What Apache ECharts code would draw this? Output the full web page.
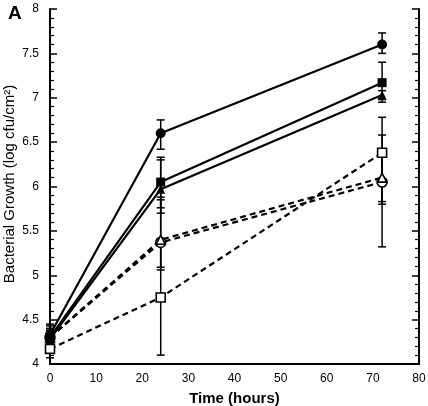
<!DOCTYPE html>
<html><head><meta charset="utf-8">
<script src="https://cdn.jsdelivr.net/npm/echarts@6/dist/echarts.min.js"></script>
<style>html,body{margin:0;padding:0;background:#fff}#c{width:428px;height:406px}</style>
</head><body><div id="c"></div>
<script>
var times = [0, 24, 72];
var filledCircle = [4.33, 6.6, 7.6];
var filledCircleErr = [[4.23, 4.43], [6.42, 6.75], [7.5, 7.73]];
var filledSquare = [4.3, 6.05, 7.17];
var filledSquareErr = [[4.2, 4.4], [5.76, 6.33], [6.95, 7.4]];
var filledTriangle = [4.28, 5.97, 7.03];
var filledTriangleErr = [[4.18, 4.38], [5.7, 6.3], [6.98, 7.08]];
var openSquare = [4.17, 4.75, 6.38];
var openSquareErr = [[4.07, 4.27], [4.1, 5.4], [5.83, 6.58]];
var openCircle = [4.3, 5.37, 6.05];
var openCircleErr = [[4.2, 4.4], [5.06, 5.88], [5.32, 6.78]];
var openTriangle = [4.3, 5.4, 6.1];
var openTriangleErr = [[4.2, 4.45], [5.09, 5.85], [5.8, 6.4]];
var xTicks = [0, 10, 20, 30, 40, 50, 60, 70, 80];
var yTicks = [4, 4.5, 5, 5.5, 6, 6.5, 7, 7.5, 8];

function pts(v){ return times.map(function(t,i){ return [t, v[i]]; }); }
function errs(e){ return times.map(function(t,i){ return [t, e[i][0], e[i][1]]; }); }

var allErr = [].concat(errs(filledCircleErr), errs(filledSquareErr), errs(filledTriangleErr),
  errs(openSquareErr), errs(openCircleErr), errs(openTriangleErr));

function lineSeries(name, data, symbol, size, filled, dashed){
  return {
    name: name, type: 'line', data: pts(data), symbol: symbol, symbolSize: size,
    z: filled ? 5 : 4,
    lineStyle: {color: '#000', width: 2.2, type: dashed ? [6, 4] : 'solid'},
    itemStyle: {color: filled ? '#000' : '#fff', borderColor: '#000', borderWidth: filled ? 0 : 1.6},
    emphasis: {disabled: true}, animation: false
  };
}
var FONT = '"Liberation Sans", Arial, sans-serif';
var chart = echarts.init(document.getElementById('c'));
chart.setOption({
  animation: false,
  backgroundColor: '#fff',
  graphic: [
    {type: 'text', left: 8, top: 4, style: {text: 'A', font: 'bold 19px ' + FONT, fill: '#000'}},
    {type: 'text', x: 10, y: 184, rotation: Math.PI / 2,
      style: {text: 'Bacterial Growth (log cfu/cm²)', font: '15px ' + FONT, fill: '#000',
        align: 'center', verticalAlign: 'middle'}}
  ],
  grid: {left: 50, right: 9, top: 9, bottom: 42, containLabel: false, outerBoundsMode: 'none'},
  xAxis: {
    type: 'value', min: 0, max: 80, interval: 10,
    axisLine: {show: true, lineStyle: {color: '#000', width: 2}},
    axisTick: {show: false}, splitLine: {show: false},
    axisLabel: {color: '#000', fontSize: 12, fontFamily: FONT, margin: 9,
      formatter: function(v){ return xTicks.indexOf(v) >= 0 ? String(v) : ''; }},
    name: 'Time (hours)', nameLocation: 'middle', nameGap: 27,
    nameTextStyle: {color: '#000', fontSize: 15, fontWeight: 'bold', fontFamily: FONT}
  },
  yAxis: [{
    type: 'value', min: 4, max: 8, interval: 0.5,
    axisLine: {show: true, lineStyle: {color: '#000', width: 2}},
    axisTick: {show: true, inside: true, length: 7, lineStyle: {color: '#000', width: 1.5}},
    minorTick: {show: true, splitNumber: 5, length: 4, lineStyle: {color: '#000', width: 1.2}},
    splitLine: {show: false},
    axisLabel: {color: '#000', fontSize: 12, fontFamily: FONT, margin: 11,
      formatter: function(v){ return yTicks.indexOf(v) >= 0 ? String(v) : ''; }}
  }, {
    type: 'value', min: 4, max: 8, interval: 0.5, position: 'right',
    axisLine: {show: true, lineStyle: {color: '#000', width: 2}},
    axisTick: {show: true, inside: true, length: 7, lineStyle: {color: '#000', width: 1.5}},
    minorTick: {show: true, splitNumber: 5, length: 4, lineStyle: {color: '#000', width: 1.2}},
    splitLine: {show: false}, axisLabel: {show: false}
  }],
  series: [
    {
      type: 'custom', z: 3, data: allErr, animation: false,
      encode: {x: 0, y: [1, 2]},
      renderItem: function(params, api){
        var x = api.value(0);
        var lo = api.coord([x, api.value(1)]);
        var hi = api.coord([x, api.value(2)]);
        var w = 4;
        var st = {stroke: '#000', lineWidth: 1.5, fill: null};
        return {type: 'group', children: [
          {type: 'line', shape: {x1: lo[0], y1: lo[1], x2: hi[0], y2: hi[1]}, style: st},
          {type: 'line', shape: {x1: lo[0]-w, y1: lo[1], x2: lo[0]+w, y2: lo[1]}, style: st},
          {type: 'line', shape: {x1: hi[0]-w, y1: hi[1], x2: hi[0]+w, y2: hi[1]}, style: st}
        ]};
      }
    },
    lineSeries('openSquare', openSquare, 'rect', 9, false, true),
    lineSeries('openCircle', openCircle, 'circle', 10, false, true),
    lineSeries('openTriangle', openTriangle, 'triangle', 9, false, true),
    lineSeries('filledTriangle', filledTriangle, 'triangle', 9, true, false),
    lineSeries('filledSquare', filledSquare, 'rect', 9, true, false),
    lineSeries('filledCircle', filledCircle, 'circle', 10, true, false)
  ]
});
</script></body></html>
